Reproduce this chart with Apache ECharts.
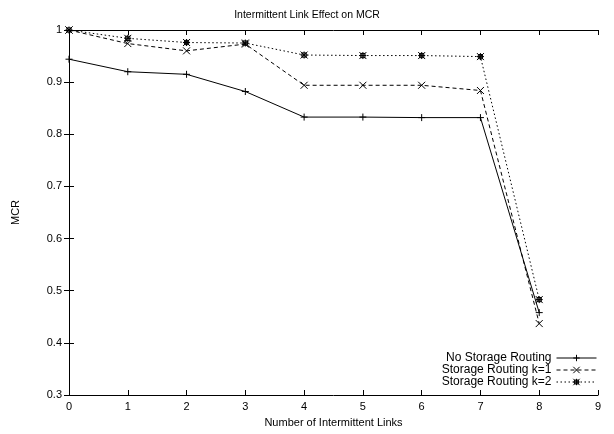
<!DOCTYPE html>
<html><head><meta charset="utf-8">
<script src="https://cdn.jsdelivr.net/npm/echarts@6/dist/echarts.min.js"></script>
<style>html,body{margin:0;padding:0;background:#fff}#c{width:614px;height:434px}</style>
</head><body><div id="c"></div>
<script>
var xValues = [0, 1, 2, 3, 4, 5, 6, 7, 8];
var noStorage = [0.944, 0.920, 0.915, 0.882, 0.833, 0.833, 0.832, 0.832, 0.458];
var storageK1 = [1.0, 0.974, 0.960, 0.973, 0.894, 0.894, 0.894, 0.884, 0.437];
var storageK2 = [1.0, 0.984, 0.976, 0.975, 0.952, 0.951, 0.951, 0.949, 0.483];
var seriesNames = ['No Storage Routing', 'Storage Routing k=1', 'Storage Routing k=2'];
var yTicks = [0.3, 0.4, 0.5, 0.6, 0.7, 0.8, 0.9, 1];

function pairs(ys){ return xValues.map(function(x,i){ return [x, ys[i]]; }); }
var FONT = '"Liberation Sans", Arial, sans-serif';
var plusSym = 'path://M0,5L10,5M5,0L5,10';
var crossSym = 'path://M0,0L10,10M10,0L0,10';
var starSym = 'path://M0,0L10,10M10,0L0,10M0,5L10,5M5,0L5,10M2,2L8,2L8,8L2,8Z';

function mkSeries(name, ys, sym, dash){
  return {
    name: name, type: 'line', data: pairs(ys),
    symbol: sym, symbolSize: 7, showSymbol: true,
    lineStyle: {color: '#000', width: 1, type: dash},
    itemStyle: {color: 'none', borderColor: '#000', borderWidth: 1},
    animation: false
  };
}
var axisCommon = {
  axisLine: {show: true, lineStyle: {color: '#000', width: 1}},
  axisTick: {show: true, inside: true, length: 5, lineStyle: {color: '#000'}},
  splitLine: {show: false}
};
var chart = echarts.init(document.getElementById('c'), null, {renderer: 'canvas'});
chart.setOption({
  backgroundColor: '#fff',
  animation: false,
  title: {text: 'Intermittent Link Effect on MCR', left: 'center', top: 5,
    textStyle: {fontFamily: FONT, fontSize: 10.5, fontWeight: 'normal', color: '#000'}},
  grid: {left: 69, right: 16, top: 30, bottom: 39},
  legend: {
    orient: 'vertical', align: 'right', right: 12, bottom: 41,
    itemWidth: 40, itemHeight: 8, itemGap: 0,
    lineStyle: {width: 1},
    itemStyle: {borderWidth: 1},
    textStyle: {fontFamily: FONT, fontSize: 12, color: '#000', lineHeight: 11, padding: [0, 0, 0, 0]},
    data: seriesNames
  },
  xAxis: [
    Object.assign({type: 'value', min: 0, max: 9, interval: 1, position: 'bottom',
      name: 'Number of Intermittent Links', nameLocation: 'middle', nameGap: 22,
      nameTextStyle: {fontFamily: FONT, fontSize: 11, color: '#000'},
      axisLabel: {fontFamily: FONT, fontSize: 11, color: '#000', margin: 6}}, axisCommon),
    Object.assign({type: 'value', min: 0, max: 9, interval: 1, position: 'top',
      axisLabel: {show: false}}, axisCommon)
  ],
  yAxis: [
    Object.assign({type: 'value', min: 0.3, max: 1, interval: 0.1, position: 'left',
      name: 'MCR', nameLocation: 'middle', nameGap: 48, nameRotate: 90,
      nameTextStyle: {fontFamily: FONT, fontSize: 11, color: '#000'},
      axisLabel: {fontFamily: FONT, fontSize: 11, color: '#000', margin: 7,
        formatter: function(v){ var r = Math.round(v*10)/10; return r === 1 ? '1' : r.toFixed(1); }}}, axisCommon),
    Object.assign({type: 'value', min: 0.3, max: 1, interval: 0.1, position: 'right',
      axisLabel: {show: false}}, axisCommon)
  ],
  series: [
    mkSeries(seriesNames[0], noStorage, plusSym, 'solid'),
    mkSeries(seriesNames[1], storageK1, crossSym, [4, 3]),
    mkSeries(seriesNames[2], storageK2, starSym, [1.5, 2.5])
  ]
});
</script></body></html>
